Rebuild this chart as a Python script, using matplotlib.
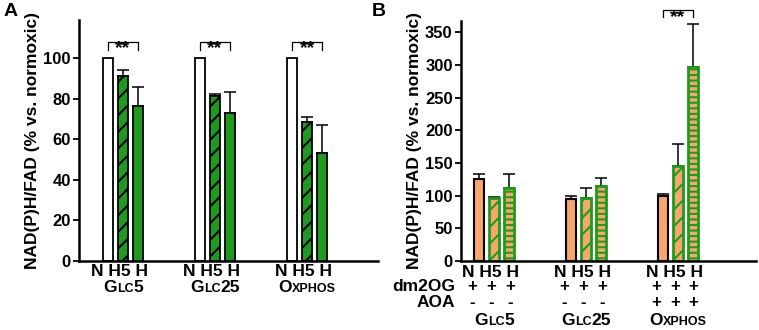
import matplotlib
matplotlib.use("Agg")
import matplotlib.pyplot as plt
from matplotlib.offsetbox import TextArea, HPacker, AnnotationBbox
import matplotlib.transforms as mtransforms

plt.rcParams["font.family"] = ["Liberation Sans", "DejaVu Sans"]
plt.rcParams["font.weight"] = "bold"
plt.rcParams["hatch.linewidth"] = 1.5

# data
conds = ["N", "H5", "H"]
groups = [("G", "LC", "5"), ("G", "LC", "25"), ("O", "XPHOS", "")]
a_mean = [[100, 91, 76.5], [100, 81.5, 73], [100, 68.5, 53]]
a_err = [[0, 3, 9], [0, 0.6, 10], [0, 2.5, 14]]
b_mean = [[126, 96, 111], [95, 96, 114], [100, 146, 297]]
b_err = [[7, 2, 22], [5, 15, 13], [3, 33, 66]]
dm2og = [["+", "+", "+"], ["+", "+", "+"], ["+", "+", "+"]]
aoa = [["-", "-", "-"], ["-", "-", "-"], ["+", "+", "+"]]
a_sig = [0, 1, 2]
b_sig = [2]

orange = "#F7A66C"
green = "#1E9B1E"
step = 0.163
width = 0.11
lab_step = 0.206
lab_shift = -0.035

fig = plt.figure(figsize=(7.59, 3.30), dpi=100)
axA = fig.add_axes([0.1041, 0.2091, 0.3939, 0.7303])
axB = fig.add_axes([0.6074, 0.2091, 0.3887, 0.7273])


def style_axis(ax):
    for s in ["top", "right"]:
        ax.spines[s].set_visible(False)
    for s in ["left", "bottom"]:
        ax.spines[s].set_linewidth(1.8)
    ax.tick_params(axis="y", direction="out", length=4, width=1.3, labelsize=12, pad=2)
    ax.tick_params(axis="x", length=0, labelbottom=False)
    ax.set_ylabel("NAD(P)H/FAD (% vs. normoxic)", fontsize=12.5, fontweight="bold", labelpad=2)


def small_caps(ax, x, y, parts):
    big, small, tail = parts
    kids = [TextArea(big, textprops=dict(size=12.5, weight="bold"))]
    kids.append(TextArea(small, textprops=dict(size=9, weight="bold")))
    if tail:
        kids.append(TextArea(tail, textprops=dict(size=12.5, weight="bold")))
    box = HPacker(children=kids, align="baseline", pad=0, sep=0)
    tr = mtransforms.blended_transform_factory(ax.transData, ax.transAxes)
    ab = AnnotationBbox(box, (x, y), xycoords=tr, frameon=False,
                        box_alignment=(0.5, 0.5), annotation_clip=False)
    ax.add_artist(ab)


def bracket(ax, x0, x1, ytop, ylow, ystar):
    ax.plot([x0, x0, x1, x1], [ylow, ytop, ytop, ylow], color="black", lw=0.9, clip_on=False)
    ax.text((x0 + x1) / 2, ystar, "**", ha="center", va="center", fontsize=14, fontweight="bold",
            clip_on=False)


# Panel A
style_axis(axA)
a_face = ["white", green, green]
a_hatch = [None, "//", None]
trA = axA.get_xaxis_transform()
for g in range(3):
    for i in range(3):
        x = g + (i - 1) * step
        axA.bar(x, a_mean[g][i], width, color=a_face[i], edgecolor="black", linewidth=1.3,
                hatch=a_hatch[i], zorder=2)
        if a_err[g][i] > 0:
            axA.errorbar(x, a_mean[g][i], yerr=[[0], [a_err[g][i]]], fmt="none", ecolor="black",
                         elinewidth=1.1, capsize=4, capthick=1.1, zorder=1)
    axA.text(g + lab_shift, -0.045, " ".join(conds), transform=trA, ha="center", va="center",
             fontsize=12.5, fontweight="bold")
    small_caps(axA, g, -0.108, groups[g])
for g in a_sig:
    bracket(axA, g - step, g + step, 108, 104, 104.5)
axA.set_xlim(-0.478, 2.77)
axA.set_ylim(0, 118.7)
axA.set_yticks(range(0, 101, 20))

# Panel B
style_axis(axB)
b_edge = ["black", green, green]
b_hatch = [None, "//", "---"]
b_lw = [1.5, 2.0, 2.0]
trB = axB.get_xaxis_transform()
for g in range(3):
    for i in range(3):
        x = g + (i - 1) * step
        axB.bar(x, b_mean[g][i], width, color=orange, edgecolor=b_edge[i], linewidth=b_lw[i],
                hatch=b_hatch[i], zorder=2)
        axB.errorbar(x, b_mean[g][i], yerr=[[0], [b_err[g][i]]], fmt="none", ecolor="black",
                     elinewidth=1.1, capsize=4, capthick=1.1, zorder=1)
    axB.text(g + lab_shift, -0.05, " ".join(conds), transform=trB, ha="center", va="center",
             fontsize=12.5, fontweight="bold")
    for i in range(3):
        x = g + lab_shift + (i - 1) * lab_step
        axB.text(x, -0.107, dm2og[g][i], transform=trB, ha="center", va="center", fontsize=12,
                 fontweight="bold")
        axB.text(x, -0.175, aoa[g][i], transform=trB, ha="center", va="center", fontsize=12,
                 fontweight="bold")
    small_caps(axB, g, -0.25, groups[g])
axB.text(-0.42, -0.107, "dm2OG", transform=trB, ha="right", va="center", fontsize=12.5,
         fontweight="bold")
axB.text(-0.42, -0.175, "AOA", transform=trB, ha="right", va="center", fontsize=12.5,
         fontweight="bold")
for g in b_sig:
    bracket(axB, g - step, g + step, 384, 373, 372)
axB.set_xlim(-0.359, 2.85)
axB.set_ylim(0, 367)
axB.set_yticks(range(0, 351, 50))

fig.text(0.005, 0.965, "A", fontsize=14, fontweight="bold", va="center")
fig.text(0.49, 0.965, "B", fontsize=14, fontweight="bold", va="center")

fig.savefig("out.png", dpi=100)
